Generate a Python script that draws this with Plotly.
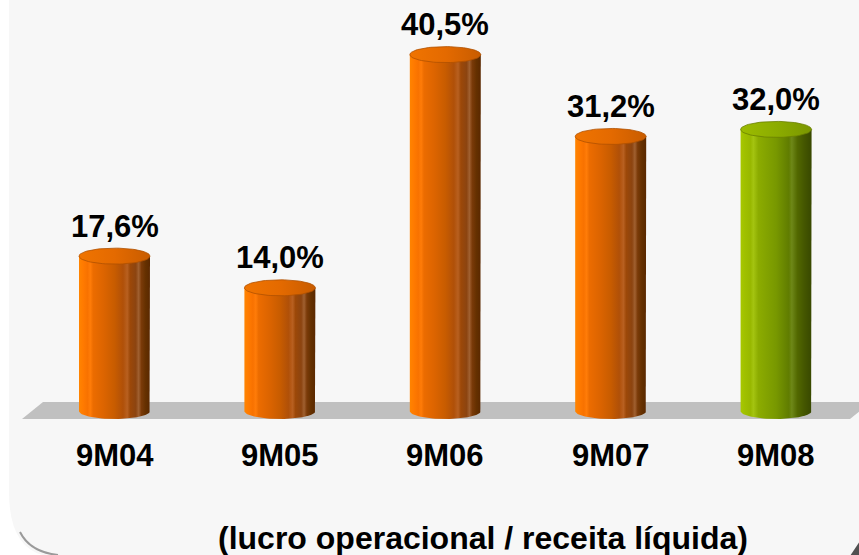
import numpy as np
import plotly.graph_objects as go

# ---- data ----
categories = ["9M04", "9M05", "9M06", "9M07", "9M08"]
values = [17.6, 14.0, 40.5, 31.2, 32.0]
subtitle = "(lucro operacional / receita líquida)"

# ---- styles ----
W, H = 859, 555
orange_body = [[0.0, "#ff8400"], [0.06, "#ff7a00"], [0.12, "#f87200"], [0.16, "#ff7c08"],
               [0.2, "#ec6c00"], [0.35, "#dc6400"], [0.5, "#c85c00"], [0.62, "#b05008"],
               [0.68, "#b86020"], [0.72, "#9c4808"], [0.8, "#8c4410"], [0.84, "#a06030"],
               [0.88, "#7a3a08"], [0.94, "#643000"], [1.0, "#5a2800"]]
orange_cap = [[0.0, "#f07400"], [0.5, "#e46a00"], [1.0, "#c85c00"]]
green_body = [[0.0, "#a8c800"], [0.06, "#a0c000"], [0.14, "#98b800"], [0.18, "#a4c410"],
              [0.25, "#8cac00"], [0.5, "#789800"], [0.68, "#607c00"], [0.72, "#6e8818"],
              [0.8, "#526800"], [0.9, "#445600"], [1.0, "#384800"]]
green_cap = [[0.0, "#9cbc00"], [0.5, "#8cac00"], [1.0, "#7a9600"]]

# pixel geometry -> axis ranges
cx0, dx = 114.5, 165.4      # first bar centre px, spacing px
base_px, ppu = 411, 8.8     # baseline px, pixels per unit
xr = [-cx0 / dx, (W - cx0) / dx]
yr = [(base_px - H) / ppu, base_px / ppu]
hw = 35.5 / dx               # half width of cylinder in x units
eh = 8.0 / ppu               # ellipse half height in y units

fig = go.Figure()

t_front = np.linspace(0, np.pi, 40)
t_full = np.linspace(0, 2 * np.pi, 80)
for i, (cat, v) in enumerate(zip(categories, values)):
    green = (i == len(values) - 1)
    c = i
    xs = [c - hw, c - hw, c + hw, c + hw] + list(c + hw * np.cos(t_front))
    ys = [0, v, v, 0] + list(-eh * np.sin(t_front))
    fig.add_trace(go.Scatter(
        x=xs, y=ys, mode="lines", fill="toself", line=dict(width=0),
        fillgradient=dict(type="horizontal", colorscale=green_body if green else orange_body),
        hoverinfo="skip", showlegend=False))
    fig.add_trace(go.Scatter(
        x=list(c + hw * np.cos(t_full)), y=list(v + eh * np.sin(t_full)),
        mode="lines", fill="toself",
        line=dict(width=0.8, color="#6a7f00" if green else "#b05000"),
        fillgradient=dict(type="horizontal", colorscale=green_cap if green else orange_cap),
        hoverinfo="skip", showlegend=False))

FONT = "Liberation Sans, Arial"
annotations = []
for i, v in enumerate(values):
    annotations.append(dict(
        x=i, y=v, xref="x", yref="y", yshift=30, yanchor="middle",
        text="<b>" + f"{v:.1f}".replace(".", ",") + "%</b>", showarrow=False,
        font=dict(family=FONT, size=31, color="#000000")))
for i, cat in enumerate(categories):
    annotations.append(dict(
        x=i, y=1 - 455 / H, xref="x", yref="paper", yanchor="middle",
        text=f"<b>{cat}</b>", showarrow=False,
        font=dict(family=FONT, size=31, color="#000000")))
annotations.append(dict(
    x=483 / W, y=1 - 538 / H, xref="paper", yref="paper", yanchor="middle",
    text=f"<b>{subtitle}</b>", showarrow=False,
    font=dict(family=FONT, size=32, color="#000000")))


def px(x, y):
    return f"{x / W:.5f},{1 - y / H:.5f}"


shapes = [
    # panel background with rounded bottom-left corner
    dict(type="path", xref="paper", yref="paper", layer="below",
         path=f"M {px(9, -2)} L {px(W + 2, -2)} L {px(W + 2, H + 2)} L {px(58, H + 2)} "
              f"Q {px(9, H + 2)} {px(9, 492)} Z",
         fillcolor="#f7f7f7", line=dict(width=0)),
    dict(type="path", xref="paper", yref="paper", layer="below",
         path=f"M {px(20, 532)} Q {px(30, 552)} {px(58, 555)}",
         line=dict(width=2, color="#9a9a9a")),
    dict(type="path", xref="paper", yref="paper", layer="below",
         path=f"M {px(850, H + 1)} L {px(W + 1, 541)} L {px(W + 1, H + 1)} Z",
         fillcolor="#505050", line=dict(width=0)),
    # floor
    dict(type="path", xref="paper", yref="paper", layer="below",
         path=f"M {px(22, 419)} L {px(43, 402)} L {px(871, 402)} L {px(850, 419)} Z",
         fillcolor="#c0c0c0", line=dict(width=0)),
]

fig.update_layout(
    width=W, height=H, margin=dict(l=0, r=0, t=0, b=0),
    paper_bgcolor="#ffffff", plot_bgcolor="rgba(0,0,0,0)",
    xaxis=dict(range=xr, visible=False, fixedrange=True),
    yaxis=dict(range=yr, visible=False, fixedrange=True),
    annotations=annotations, shapes=shapes, showlegend=False,
)

fig.write_html("out.html", config={"displayModeBar": False},
               post_script="document.body.style.margin='0';document.body.style.overflow='hidden';")
